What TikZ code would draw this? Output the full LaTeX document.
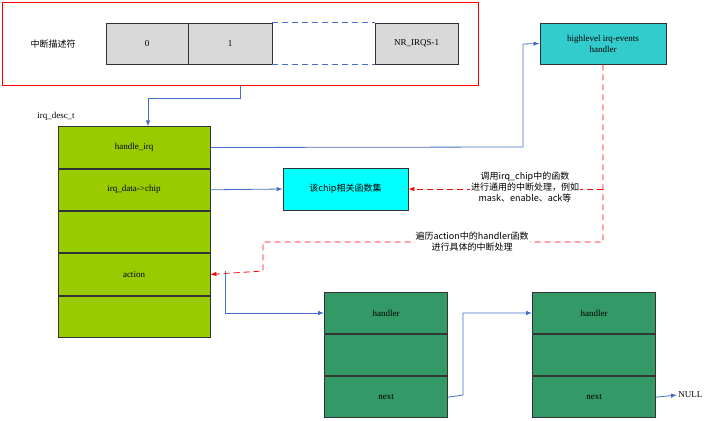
\documentclass[tikz,border=0pt]{standalone}
\usepackage{fontspec}
\setmainfont{Liberation Serif}
\newfontfamily\cjk{Noto Sans CJK SC}
\usetikzlibrary{patterns,arrows.meta}
\definecolor{lnblue}{RGB}{70,110,200}
\definecolor{ggreen}{RGB}{153,204,0}
\definecolor{hgreen}{RGB}{51,153,102}
\definecolor{teal2}{RGB}{51,204,204}
\definecolor{cyan2}{RGB}{0,255,255}
\begin{document}
\begin{tikzpicture}[x=1pt,y=-1pt,font=\fontsize{9}{11}\selectfont,line width=0.8pt,
 cell/.style={draw=black!80,fill=black!15,minimum width=#1,minimum height=41,inner sep=0},
 g/.style={draw=black!80,fill=ggreen,minimum width=152,minimum height=41.5,inner sep=0},
 h/.style={draw=black!80,fill=hgreen,minimum width=123,minimum height=41.3,inner sep=0},
 bl/.style={draw=lnblue,-{Latex[length=6pt]}},
 rd/.style={draw=red,dash pattern=on 6pt off 4pt,-{Latex[length=6pt]}}]
\useasboundingbox (0,0) rectangle (708,420);
\node[draw=red,minimum width=476,minimum height=83,inner sep=0] (frame) at (240,43.5) {};
\node (lab) at (53,44) {\cjk 中断描述符};
\node[cell=82] (c0) at (147,43.5) {0};
\node[cell=84] (c1) at (230,43.5) {1};
\node[cell=83] (cn) at (416.5,43.5) {NR\_IRQS-1};
\draw[dash pattern=on 6pt off 4pt,draw=lnblue] (c1.north east) -- (cn.north west) (c1.south east) -- (cn.south west);
\node (desc) at (56,116) {irq\_desc\_t};
\node[g] (g1) at (134,147.5) {handle\_irq};
\node[g,anchor=north] (g2) at (g1.south) {irq\_data->chip};
\node[g,anchor=north] (g3) at (g2.south) {};
\node[g,anchor=north] (g4) at (g3.south) {action};
\node[g,anchor=north] (g5) at (g4.south) {};
\draw[bl] (frame.south -| 240,0) -- (240,98) -- (148,98) -- (g1.north -| 148,0);
\node[draw=black!80,fill=teal2,minimum width=126,minimum height=41,inner sep=0,align=center] (hl) at (603,43.5) {highlevel irq-events\\handler};
\node[draw=black!80,fill=cyan2,minimum width=125,minimum height=42,inner sep=0] (chip) at (345.5,189) {\cjk 该chip相关函数集};
\draw[bl] (g1.east) -- (523,147) -- (523,44) -- (hl.west);
\draw[bl] (g2.east) -- (chip.west);
\coordinate (r1) at (603,189);
\coordinate (r2) at (603,242);
\draw[rd] (hl.south) -- (r2) -- (263,242) -- (263,271) -- (g4.east);
\draw[rd] (r1) -- (chip.east);
\node[fill=white,inner sep=1pt,align=center] (t1) at (525,187) {\cjk 调用irq\_chip中的函数\\\cjk 进行通用的中断处理，例如\\\cjk mask、enable、ack等};
\node[fill=white,inner sep=1pt,align=center] (t2) at (472,242) {\cjk 遍历action中的handler函数\\\cjk 进行具体的中断处理};
\node[h] (a1) at (386,313) {handler};
\node[h,anchor=north] (a2) at (a1.south) {};
\node[h,anchor=north] (a3) at (a2.south) {next};
\node[h] (b1) at (594,313) {handler};
\node[h,anchor=north] (b2) at (b1.south) {};
\node[h,anchor=north] (b3) at (b2.south) {next};
\draw[bl] (225,271) -- (225,313) -- (a1.west);
\draw[bl] (a3.east) -- (463,395) -- (463,313) -- (b1.west);
\node[anchor=west,inner sep=1pt] (null) at (677,395) {NULL};
\draw[bl] (b3.east) -- (null.west);
\end{tikzpicture}
\end{document}
